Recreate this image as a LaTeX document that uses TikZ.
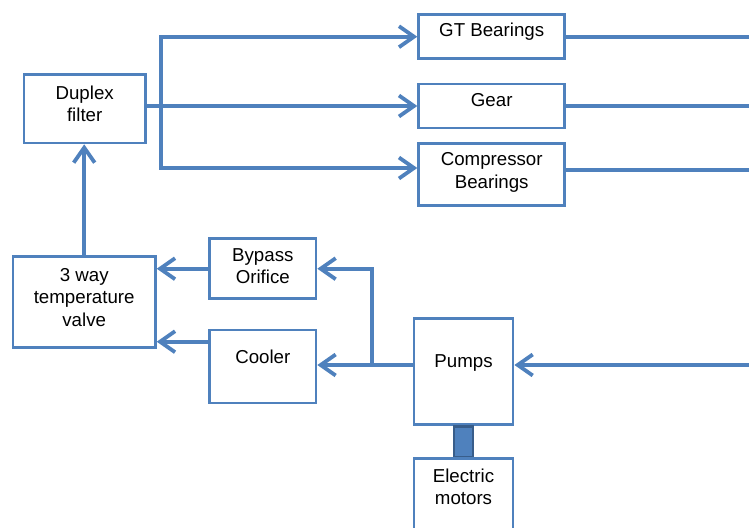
\documentclass[tikz,border=0pt]{standalone}
\usepackage{fontspec}
\setmainfont{Liberation Sans}
\usetikzlibrary{arrows.meta, positioning}
\definecolor{oilblue}{RGB}{79,129,189}
\definecolor{shaftblue}{RGB}{56,93,138}
\tikzstyle{unit}     = [rectangle, draw=oilblue, line width=2.8pt, fill=white]
\tikzstyle{tag}      = [inner sep=0pt, align=center, font=\fontsize{18.7}{22.3}\selectfont]
\tikzstyle{pipe}     = [draw=oilblue, line width=3.8pt]
\tikzstyle{flow}     = [pipe, ->, >={Straight Barb[length=15pt, width=21pt]}]
\tikzstyle{coupling} = [rectangle, draw=shaftblue, line width=2.8pt, fill=oilblue, inner sep=0pt, outer sep=0pt]

\begin{document}
\begin{tikzpicture}[x=1pt, y=-1pt]
        \useasboundingbox (0,0) rectangle (749,527);
        \clip (0,0) rectangle (749,527);

        % lube oil consumers
        \node (gt)     [unit, minimum width=146pt, minimum height=44pt] at (491.7,36.7)  {};
        \node (gear)   [unit, minimum width=146pt, minimum height=44pt] at (491.7,106)   {};
        \node (comp)   [unit, minimum width=146pt, minimum height=62pt] at (491.7,174.3) {};
        \node (duplex) [unit, minimum width=121.3pt, minimum height=68.3pt] at (84.7,108.8) {};
        \node (valve)  [unit, minimum width=142.3pt, minimum height=91pt] at (84.2,301.8) {};
        \node (bypass) [unit, minimum width=106.3pt, minimum height=60pt] at (262.8,268.7) {};
        \node (cooler) [unit, minimum width=106.3pt, minimum height=73pt] at (262.8,366.5) {};
        \node (pumps)  [unit, minimum width=99pt, minimum height=106pt] at (463.5,371.7) {};
        \node (shaft)  [coupling, minimum width=19pt, minimum height=31pt, below=0pt of pumps] {};
        \node (motors) [unit, minimum width=99pt, minimum height=100pt, below=0pt of shaft] {};

        % texts sit near the top of each box
        \node (gttext)     [tag, below=9.3pt of gt.north]      {GT Bearings};
        \node (geartext)   [tag, below=10.7pt of gear.north]   {Gear};
        \node (comptext)   [tag, below=10.7pt of comp.north]   {Compressor\\Bearings};
        \node (duplextext) [tag, below=12pt of duplex.north]   {Duplex\\filter};
        \node (valvetext)  [tag, below=13.3pt of valve.north]  {3 way\\temperature\\valve};
        \node (bypasstext) [tag, below=11pt of bypass.north]   {Bypass\\Orifice};
        \node (coolertext) [tag, below=20.7pt of cooler.north] {Cooler};
        \node (pumpstext)  [tag, below=37pt of pumps.north]    {Pumps};
        \node (motorstext) [tag, below=11.7pt of motors.north] {Electric\\motors};

        \coordinate (ttop) at (161.3,36.7);
        \coordinate (tbot) at (161.3,168);
        \coordinate (tee)  at (371.7,365);
        \coordinate (rim)  at (760,0);
        \coordinate (pout) at ([yshift=6.7pt]pumps.west);

        % supply header from the filter
        \draw [flow, <->] (gt.west) -- (ttop) -- (tbot) -- (comp.west |- tbot);
        \draw [flow] (duplex.east |- gear.west) -- (gear.west);
        \draw [flow] (valve.north) -- (valve.north |- duplex.south);

        % drains back to the tank
        \draw [pipe] (gt.east)   -- (gt.east -| rim);
        \draw [pipe] (gear.east) -- (gear.east -| rim);
        \draw [pipe] ([yshift=4.3pt]comp.east) -- ([yshift=4.3pt]comp.east -| rim);

        % pump discharge through cooler or bypass
        \draw [flow] (rim |- pout) -- (pumps.east |- pout);
        \draw [flow] (pout) -- (cooler.east |- pout);
        \draw [flow] (tee) |- (bypass.east);
        \draw [flow] (bypass.west) -- (bypass.west -| valve.east);
        \draw [flow] ([yshift=24.8pt]cooler.west) -- ([yshift=24.8pt]cooler.west -| valve.east);
    \end{tikzpicture}
\end{document}
